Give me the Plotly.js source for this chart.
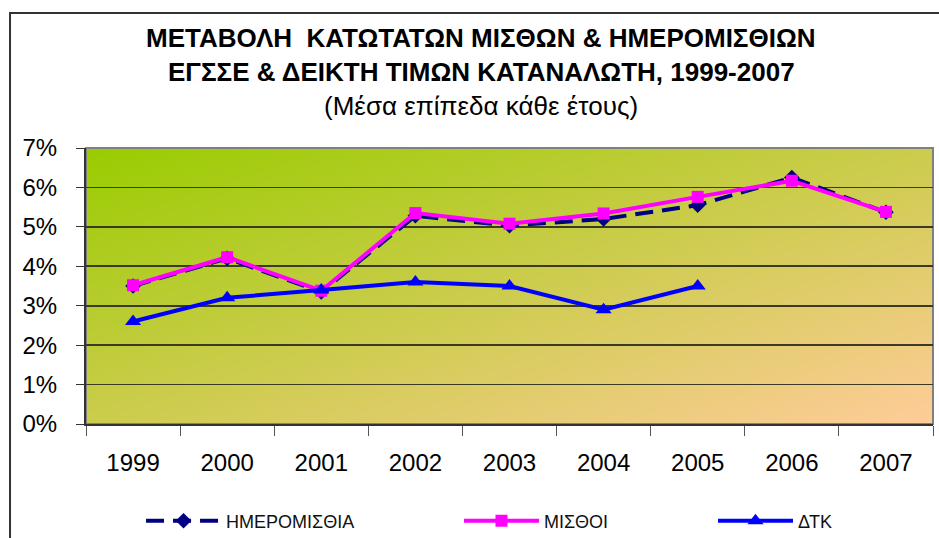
<!DOCTYPE html>
<html>
<head>
<meta charset="utf-8">
<script src="https://cdn.plot.ly/plotly-3.0.1.min.js"></script>
<style>html,body{margin:0;padding:0;background:#fff;}#chart{width:939px;height:538px;}</style>
</head>
<body>
<div id="chart"></div>
<script>
// ---- data (percent) ----
const years = ['1999','2000','2001','2002','2003','2004','2005','2006','2007'];
const imeromisthia = [3.50, 4.20, 3.35, 5.28, 5.03, 5.20, 5.55, 6.25, 5.37];
const misthoi      = [3.52, 4.23, 3.38, 5.35, 5.08, 5.34, 5.76, 6.17, 5.38];
const dtk          = [2.60, 3.20, 3.40, 3.60, 3.50, 2.90, 3.50, null, null];
const seriesNames = ['ΗΜΕΡΟΜΙΣΘΙΑ', 'ΜΙΣΘΟΙ', 'ΔΤΚ'];
const titleLines = ['ΜΕΤΑΒΟΛΗ  ΚΑΤΩΤΑΤΩΝ ΜΙΣΘΩΝ & ΗΜΕΡΟΜΙΣΘΙΩΝ',
                    'ΕΓΣΣΕ & ΔΕΙΚΤΗ ΤΙΜΩΝ ΚΑΤΑΝΑΛΩΤΗ, 1999-2007',
                    '(Μέσα επίπεδα κάθε έτους)'];

const FONT = 'Liberation Sans, Arial, sans-serif';

const gradSvg = "<svg xmlns='http://www.w3.org/2000/svg' width='100' height='100' preserveAspectRatio='none' viewBox='0 0 100 100'>" +
  "<defs><linearGradient id='g' x1='0' y1='0' x2='1' y2='1'>" +
  "<stop offset='0' stop-color='#99CC00'/><stop offset='1' stop-color='#FFCC99'/>" +
  "</linearGradient></defs><rect width='100' height='100' fill='url(#g)'/></svg>";
const gradUrl = 'data:image/svg+xml;charset=utf-8,' + encodeURIComponent(gradSvg);

const traces = [
  {x: years, y: imeromisthia, name: seriesNames[0], type: 'scatter', mode: 'lines+markers',
   line: {color: '#000080', width: 4, dash: '18px,9px'},
   marker: {symbol: 'diamond', size: 12, color: '#000080'}, legend: 'legend'},
  {x: years, y: misthoi, name: seriesNames[1], type: 'scatter', mode: 'lines+markers',
   line: {color: '#FF00FF', width: 4},
   marker: {symbol: 'square', size: 12, color: '#FF00FF'}, legend: 'legend2'},
  {x: years, y: dtk, name: seriesNames[2], type: 'scatter', mode: 'lines+markers',
   line: {color: '#0000FF', width: 4},
   marker: {symbol: 'triangle-up', size: 14, color: '#0000FF'}, legend: 'legend3'}
];

const legBase = {orientation: 'h', xref: 'container', yref: 'container', y: 0.0316,
  yanchor: 'middle', xanchor: 'left', itemwidth: 75,
  bgcolor: 'rgba(0,0,0,0)', font: {family: FONT, size: 18, color: '#111'}};

const layout = {
  width: 939, height: 538,
  margin: {l: 86, r: 6, t: 148, b: 114, autoexpand: false},
  paper_bgcolor: '#ffffff',
  plot_bgcolor: 'rgba(0,0,0,0)',
  font: {family: FONT, color: '#000'},
  showlegend: true,
  legend: Object.assign({}, legBase, {x: 0.1502}),
  legend2: Object.assign({}, legBase, {x: 0.4888}),
  legend3: Object.assign({}, legBase, {x: 0.7593}),
  xaxis: {
    type: 'category', range: [-0.5, 8.5], showgrid: false, zeroline: false,
    showline: true, linecolor: '#333', linewidth: 2,
    ticks: 'outside', tickson: 'boundaries', ticklen: 10, tickcolor: '#555', tickwidth: 1,
    ticklabelstandoff: 16,
    tickfont: {family: FONT, size: 24, color: '#000'}
  },
  yaxis: {
    range: [0, 7], dtick: 1, ticksuffix: '%', showgrid: true, gridcolor: '#3a3a25', gridwidth: 1.8,
    zeroline: false, showline: true, linecolor: '#333', linewidth: 2,
    ticks: 'outside', ticklen: 8, tickcolor: '#333', tickwidth: 1,
    ticklabelstandoff: 14,
    tickfont: {family: FONT, size: 24, color: '#000'}
  },
  images: [{source: gradUrl, xref: 'paper', yref: 'paper', x: 0, y: 1, sizex: 1, sizey: 1,
            xanchor: 'left', yanchor: 'top', sizing: 'stretch', layer: 'below'}],
  shapes: [
    {type: 'rect', xref: 'paper', yref: 'paper', x0: 0, x1: 1, y0: 0, y1: 1,
     line: {color: '#808080', width: 2}, layer: 'below'},
    {type: 'rect', xref: 'paper', yref: 'paper', x0: -0.0897, x1: 1.2, y0: -0.5, y1: 1.489,
     line: {color: '#333', width: 2}, fillcolor: 'rgba(0,0,0,0)'}
  ],
  annotations: [
    {text: '<b>' + titleLines[0] + '</b>', xref: 'paper', yref: 'paper', x: 0.4664, y: 1.3986,
     xanchor: 'center', yanchor: 'middle', showarrow: false, font: {family: FONT, size: 26, color: '#000'}},
    {text: '<b>' + titleLines[1] + '</b>', xref: 'paper', yref: 'paper', x: 0.4664, y: 1.2754,
     xanchor: 'center', yanchor: 'middle', showarrow: false, font: {family: FONT, size: 26, color: '#000'}},
    {text: titleLines[2], xref: 'paper', yref: 'paper', x: 0.4664, y: 1.1522,
     xanchor: 'center', yanchor: 'middle', showarrow: false, font: {family: FONT, size: 26, color: '#000'}}
  ]
};

Plotly.newPlot('chart', traces, layout, {displayModeBar: false, staticPlot: true});
</script>
</body>
</html>
